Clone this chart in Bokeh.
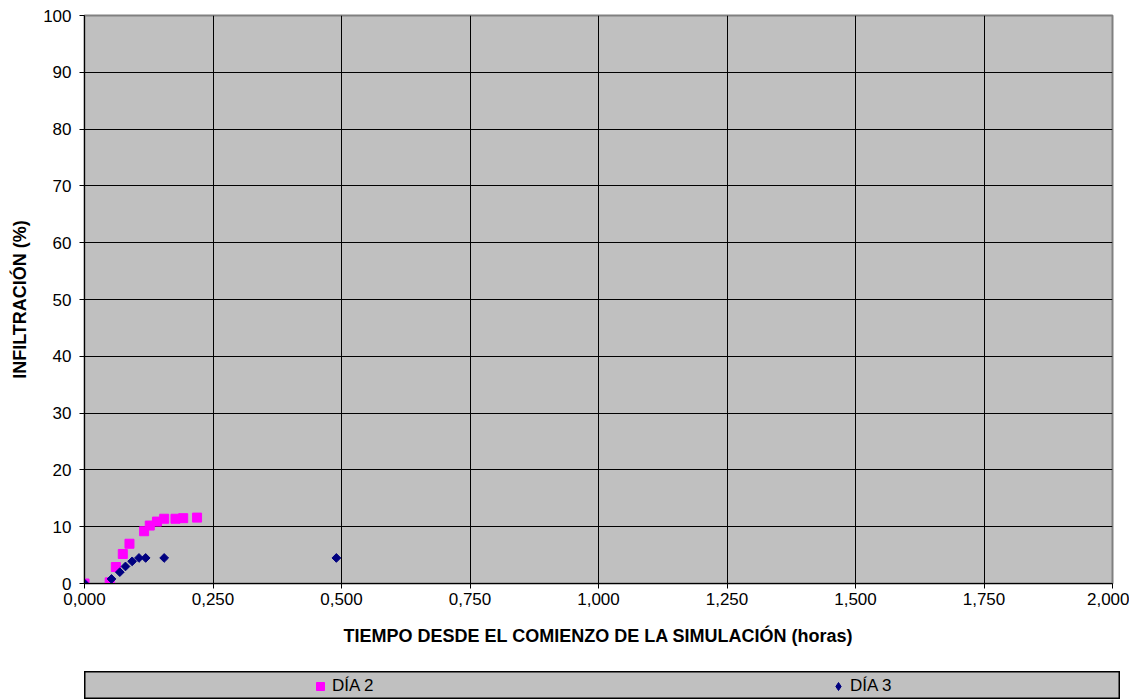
from bokeh.plotting import figure
from bokeh.models import Range1d, Legend, LegendItem, FixedTicker, Spacer, ColumnDataSource
from bokeh.layouts import column, row
from bokeh.embed import file_html
from bokeh.resources import INLINE

# Data
dia2_t = [0.000, 0.049, 0.061, 0.0745, 0.0875, 0.116, 0.127, 0.141, 0.155, 0.177, 0.192, 0.219]
dia2_inf = [0.0, 0.2, 2.9, 5.2, 7.0, 9.2, 10.2, 10.9, 11.4, 11.4, 11.5, 11.6]
dia3_t = [0.000, 0.0525, 0.0687, 0.0797, 0.0927, 0.106, 0.119, 0.155, 0.490]
dia3_inf = [0.0, 0.8, 2.0, 3.0, 3.9, 4.5, 4.5, 4.5, 4.5]
x_ticks = [0.0, 0.25, 0.5, 0.75, 1.0, 1.25, 1.5, 1.75, 2.0]
x_tick_labels = ["0,000", "0,250", "0,500", "0,750", "1,000", "1,250", "1,500", "1,750", "2,000"]
y_ticks = [0, 10, 20, 30, 40, 50, 60, 70, 80, 90, 100]
series_names = ["DÍA 2", "DÍA 3"]

FONT = "Liberation Sans"
PINK = "#FF00FF"
NAVY = "#000080"
DIAMOND_ANGLE = 0.785398

src2 = ColumnDataSource(dict(t=dia2_t, v=dia2_inf))
src3 = ColumnDataSource(dict(t=dia3_t, v=dia3_inf))

p = figure(width=1129, height=671, output_backend="svg", toolbar_location=None,
           x_range=Range1d(0, 2.0), y_range=Range1d(0, 100),
           min_border_left=84, min_border_top=15, min_border_right=17, min_border_bottom=88)

p.background_fill_color = "#C0C0C0"
p.border_fill_color = "white"
p.outline_line_color = "#808080"
p.outline_line_width = 2

p.xaxis.ticker = FixedTicker(ticks=x_ticks)
p.yaxis.ticker = FixedTicker(ticks=y_ticks)
p.xaxis.major_label_overrides = {t: l for t, l in zip(x_ticks, x_tick_labels)}

for ax in (p.xaxis[0], p.yaxis[0]):
    ax.axis_line_color = "black"
    ax.major_tick_line_color = "black"
    ax.major_tick_in = 0
    ax.major_tick_out = 5
    ax.minor_tick_line_color = None
    ax.major_label_text_font = FONT
    ax.major_label_text_font_size = "17px"
    ax.major_label_text_color = "black"
    ax.axis_label_text_font = FONT
    ax.axis_label_text_font_size = "18px"
    ax.axis_label_text_font_style = "bold"
    ax.axis_label_text_color = "black"

p.xaxis.axis_label = "TIEMPO DESDE EL COMIENZO DE LA SIMULACIÓN (horas)"
p.yaxis.axis_label = "INFILTRACIÓN (%)"
p.xaxis.major_label_standoff = 4
p.xaxis.axis_label_standoff = 18
p.yaxis.major_label_standoff = 8
p.yaxis.axis_label_standoff = 10

p.xgrid.grid_line_color = "black"
p.ygrid.grid_line_color = "black"
p.xgrid.grid_line_width = 1
p.ygrid.grid_line_width = 1

p.scatter("t", "v", source=src2, marker="square", size=9, color=PINK)
p.scatter("t", "v", source=src3, marker="square", size=6.2, angle=DIAMOND_ANGLE, color=NAVY)

# Legend box as a separate strip (its ranges exclude the data, so only the legend keys show)
lg = figure(width=1036, height=28, output_backend="svg", toolbar_location=None,
            x_range=Range1d(-2, -1), y_range=Range1d(-2, -1),
            x_axis_type=None, y_axis_type=None,
            min_border_left=0, min_border_right=0, min_border_top=0, min_border_bottom=0)
lg.background_fill_color = "#C0C0C0"
lg.border_fill_color = "#C0C0C0"
lg.outline_line_color = "black"
lg.outline_line_width = 2
lg.xgrid.visible = False
lg.ygrid.visible = False
k2 = lg.scatter("t", "v", source=src2, marker="square", size=8, color=PINK)
k3 = lg.scatter("t", "v", source=src3, marker="diamond", size=9, color=NAVY)

legend = Legend(items=[LegendItem(label=series_names[0], renderers=[k2], index=0),
                       LegendItem(label=series_names[1], renderers=[k3], index=0)],
                orientation="horizontal", location=(226, 3),
                padding=0, margin=0, spacing=451,
                glyph_width=20, glyph_height=20, label_standoff=2, label_width=45,
                label_height=20,
                label_text_font=FONT, label_text_font_size="17px", label_text_color="black",
                background_fill_alpha=0.0, border_line_color=None)
lg.add_layout(legend, "center")

layout = column(p, row(Spacer(width=84, height=28), lg), spacing=0)

open("out.html", "w").write(file_html(layout, INLINE))
